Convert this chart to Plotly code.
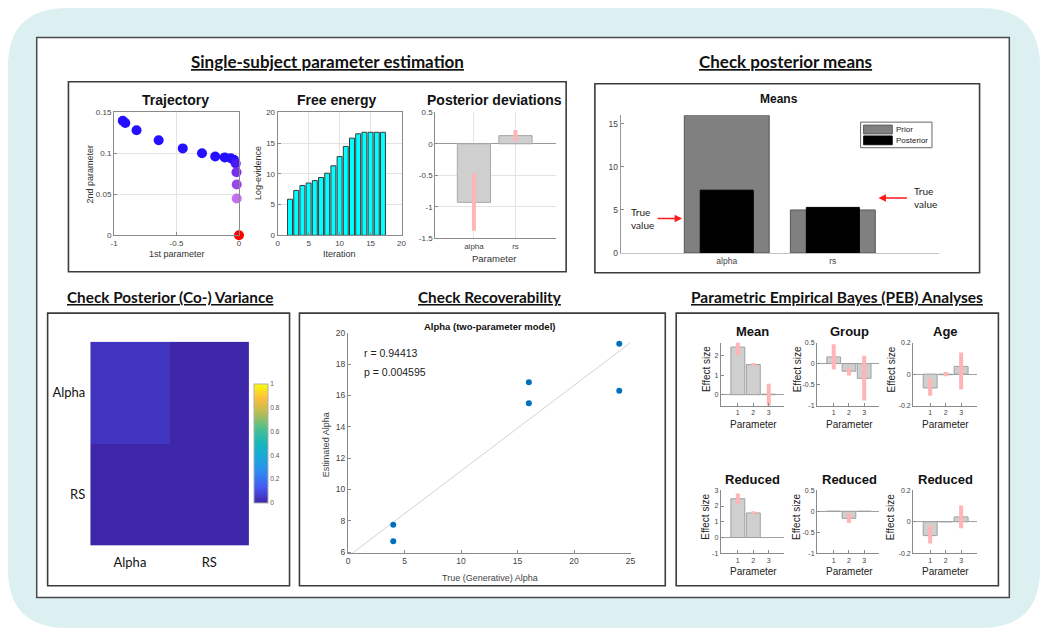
import numpy as np
import plotly.graph_objects as go

W, H = 1050, 637

# ---------------- data ----------------
traj_p1 = [-0.93, -0.91, -0.82, -0.643, -0.45, -0.296, -0.19, -0.114, -0.066, -0.04, -0.026, -0.02, -0.018, -0.018, 0.0]
traj_p2 = [0.1396, 0.137, 0.128, 0.116, 0.106, 0.100, 0.096, 0.095, 0.094, 0.092, 0.0876, 0.077, 0.062, 0.045, 0.0]
traj_colors = ["#2410ff"] * 10 + ["#4a18f6", "#7a2ef0", "#9a46ea", "#c46ef2", "#ff0000"]

fe_iter = list(range(2, 18))
fe_logev = [5.87, 7.3, 8.1, 8.5, 8.9, 9.4, 10.1, 11.3, 12.8, 14.45, 15.8, 16.5, 16.75, 16.75, 16.75, 16.75]

params = ["alpha", "rs"]
dev_mean = [-0.93, 0.13]
dev_lo = [-1.38, 0.05]
dev_hi = [-0.48, 0.22]

means_prior = [16.0, 5.0]
means_post = [7.3, 5.3]

cov_labels = ["Alpha", "RS"]
cov_matrix = [[0.04, 0.0], [0.0, 0.0]]

rec_true = [4, 4, 16, 16, 24, 24]
rec_est = [7.75, 6.7, 16.85, 15.5, 19.3, 16.3]
rec_r = "r = 0.94413"
rec_p = "p = 0.004595"

peb_params = [1, 2, 3]
peb_titles = ["Mean", "Group", "Age", "Reduced", "Reduced", "Reduced"]
peb_vals = [[2.45, 1.55, 0.03], [0.16, -0.18, -0.35], [-0.088, -0.004, 0.049],
            [2.46, 1.56, 0.0], [0.0, -0.17, 0.0], [-0.088, 0.0, 0.031]]
peb_lo = [[2.03, 1.46, -0.6], [-0.14, -0.28, -0.88], [-0.138, -0.014, -0.097],
          [2.15, 1.46, 0.0], [0.0, -0.28, 0.0], [-0.138, 0.0, -0.041]]
peb_hi = [[2.68, 1.63, 0.56], [0.46, -0.10, 0.19], [-0.027, 0.014, 0.138],
          [2.8, 1.67, 0.0], [0.0, -0.05, 0.0], [-0.027, 0.0, 0.103]]
peb_ranges = [[-0.56, 2.68], [-1, 0.5], [-0.2, 0.2], [-1, 3], [-1, 0.5], [-0.2, 0.2]]
peb_ticks = [[0, 1, 2], [-1, -0.5, 0, 0.5], [-0.2, 0, 0.2], [-1, 0, 1, 2, 3], [-1, -0.5, 0, 0.5], [-0.2, 0, 0.2]]

parula = [[0.0, "#3e26a8"], [0.125, "#4656f0"], [0.25, "#2f87f2"], [0.375, "#1aa6dc"],
          [0.5, "#17b6bc"], [0.625, "#4bc08e"], [0.75, "#b3bd55"], [0.875, "#fbbd3e"], [1.0, "#f9fb0e"]]

# ---------------- helpers ----------------
def fx(p):
    return p / W

def fy(p):
    return 1 - p / H

def xd(a, b):
    return [fx(a), fx(b)]

def yd(top, bot):
    return [fy(bot), fy(top)]

SANS = "Liberation Sans"
CAL = "Lato"
AXC = "#8a8a8a"
TKC = "#444444"
GRID = "#e4e4e4"

def fmt(v):
    return "%g" % v

def axis(dom, rng, vals=None, text=None, size=8, line=True, mirror=False, grid=False,
         anchor=None, ticks="inside", zeroline=False, zcol="#9a9a9a", lcol=AXC):
    d = dict(domain=dom, range=rng, showline=line, linecolor=lcol, linewidth=1, mirror=mirror,
             showgrid=grid, gridcolor=GRID, gridwidth=1, ticks=ticks, ticklen=3, tickcolor=AXC,
             tickfont=dict(family=SANS, size=size, color=TKC), zeroline=zeroline,
             zerolinecolor=zcol, zerolinewidth=1, anchor=anchor, fixedrange=True)
    if vals is not None:
        d.update(tickmode="array", tickvals=vals,
                 ticktext=text if text is not None else [fmt(v) for v in vals])
    return d

annotations = []
shapes = []

def T(text, x, y, size, family=SANS, color="#111111", bold=False, angle=0,
      xanchor="center", yanchor="middle", align="center"):
    if bold:
        text = "<b>" + text + "</b>"
    annotations.append(dict(text=text, x=fx(x), y=fy(y), xref="paper", yref="paper",
                            showarrow=False, font=dict(family=family, size=size, color=color),
                            textangle=angle, xanchor=xanchor, yanchor=yanchor, align=align))

def box(x0, y0, x1, y1, line="#3c3c3c", width=1.6, fill="white"):
    shapes.append(dict(type="rect", xref="paper", yref="paper", x0=fx(x0), x1=fx(x1),
                       y0=fy(y1), y1=fy(y0), line=dict(color=line, width=width),
                       fillcolor=fill, layer="below"))

def err_xy(xs, lo, hi):
    ex, ey = [], []
    for x, a, b in zip(xs, lo, hi):
        if b > a:
            ex += [x, x, None]
            ey += [a, b, None]
    return ex, ey

fig = go.Figure()
layout = {}

# ---------------- background ----------------
x0, y0, x1, y1, r = 4, 3, 1045, 633, 60
pts = lambda a, b: "%f,%f" % (fx(a), fy(b))
path = ("M " + pts(x0 + r, y0) + " L " + pts(x1 - r, y0) + " Q " + pts(x1, y0) + " " + pts(x1, y0 + r) +
        " L " + pts(x1, y1 - r) + " Q " + pts(x1, y1) + " " + pts(x1 - r, y1) +
        " L " + pts(x0 + r, y1) + " Q " + pts(x0, y1) + " " + pts(x0, y1 - r) +
        " L " + pts(x0, y0 + r) + " Q " + pts(x0, y0) + " " + pts(x0 + r, y0) + " Z")
shapes.append(dict(type="path", path=path, xref="paper", yref="paper",
                   fillcolor="#dceff1", line=dict(width=0), layer="below"))
box(33, 33, 1014, 602, line="#4a4a4a", width=1.5)
box(65, 78, 567, 271)
box(596, 80, 984, 272)
box(44, 313, 288, 590)
box(298, 313, 667, 590)
box(678, 313, 1003, 590)

# section titles
T("<u>Single-subject parameter estimation</u>", 326, 57, 17, CAL, bold=True)
T("<u>Check posterior means</u>", 788, 57, 17, CAL, bold=True)
T("<u>Check Posterior (Co-) Variance</u>", 167, 297, 15.3, CAL, bold=True)
T("<u>Check Recoverability</u>", 490, 297, 15.3, CAL, bold=True)
T("<u>Parametric Empirical Bayes (PEB) Analyses</u>", 840, 297, 15.5, CAL, bold=True)

# ---------------- 1. Trajectory ----------------
fig.add_trace(go.Scatter(x=traj_p1, y=traj_p2, mode="markers", cliponaxis=False,
                         marker=dict(size=10, color=traj_colors, line=dict(width=0)),
                         xaxis="x", yaxis="y", showlegend=False))
layout["xaxis"] = axis(xd(111, 237), [-1, 0], [-1, -0.5, 0], size=8, mirror=True, grid=True, anchor="y")
layout["yaxis"] = axis(yd(109, 234), [0, 0.15], [0, 0.05, 0.1, 0.15], size=8, mirror=True, grid=True, anchor="x")
T("Trajectory", 173, 97, 14, bold=True)
T("2nd parameter", 87, 172, 9, angle=-90, color="#333")
T("1st parameter", 174, 253, 9, color="#333")

# ---------------- 2. Free energy ----------------
fig.add_trace(go.Bar(x=fe_iter, y=fe_logev, width=0.8, marker=dict(color="#00ffff", line=dict(color="#3a3a3a", width=1)),
                     xaxis="x2", yaxis="y2", showlegend=False))
layout["xaxis2"] = axis(xd(276, 401), [0, 20], [0, 5, 10, 15, 20], size=8, mirror=True, grid=True, anchor="y2")
layout["yaxis2"] = axis(yd(109, 234), [0, 20], [0, 5, 10, 15, 20], size=8, mirror=True, grid=True, anchor="x2")
T("Free energy", 336, 97, 14, bold=True)
T("Log-evidence", 257, 171, 9, angle=-90, color="#333")
T("Iteration", 338, 253, 9, color="#333")

# ---------------- 3. Posterior deviations ----------------
fig.add_trace(go.Bar(x=[1, 2], y=dev_mean, width=0.8, marker=dict(color="#cfcfcf", line=dict(color="#a8a8a8", width=1)),
                     xaxis="x3", yaxis="y3", showlegend=False))
ex, ey = err_xy([1, 2], dev_lo, dev_hi)
fig.add_trace(go.Scatter(x=ex, y=ey, mode="lines", line=dict(color="#ffb5b5", width=4),
                         xaxis="x3", yaxis="y3", showlegend=False))
layout["xaxis3"] = axis(xd(435, 557), [0.07, 2.98], [1, 2], params, size=8, grid=True, anchor="y3", ticks="")
layout["yaxis3"] = axis(yd(109, 237), [-1.5, 0.5], [-1.5, -1, -0.5, 0, 0.5], size=8, grid=True, anchor="x3",
                        zeroline=True)
T("Posterior deviations", 495, 97, 14, bold=True)
T("Parameter", 494, 258, 9.5, color="#333")

# ---------------- 4. Means ----------------
fig.add_trace(go.Bar(x=[1, 2], y=means_prior, width=0.8, name="Prior",
                     marker=dict(color="#808080", line=dict(color="#555555", width=1)),
                     xaxis="x4", yaxis="y4", showlegend=False))
fig.add_trace(go.Bar(x=[1, 2], y=means_post, width=0.5, name="Posterior",
                     marker=dict(color="#000000", line=dict(color="#000000", width=1)),
                     xaxis="x4", yaxis="y4", showlegend=False))
layout["xaxis4"] = axis(xd(622, 943), [0, 3], [1, 2], params, size=8.5, anchor="y4", ticks="", lcol="#c4c4c4")
layout["yaxis4"] = axis(yd(112, 252), [0, 16], [0, 5, 10, 15], size=8.5, anchor="x4", lcol="#9a9a9a")
T("Means", 782, 95, 12, bold=True)
# legend
box(864, 119, 936, 145, line="#666666", width=1)
box(867, 122, 896, 131, line="#444444", width=0.8, fill="#808080")
box(867, 133, 896, 142, line="#000000", width=0.8, fill="#000000")
T("Prior", 898, 126.5, 8, color="#222", xanchor="left")
T("Posterior", 898, 137.5, 8, color="#222", xanchor="left")
# true value arrows
T("True<br>value", 630, 217, 10, CAL, color="#222", xanchor="left", align="left")
T("True<br>value", 916, 196, 10, CAL, color="#222", xanchor="left", align="left")
annotations.append(dict(text="", x=fx(684), y=fy(217), xref="paper", yref="paper", ax=-26, ay=0,
                        showarrow=True, arrowhead=2, arrowsize=1, arrowwidth=1.5, arrowcolor="#ff1a1a"))
annotations.append(dict(text="", x=fx(882), y=fy(196), xref="paper", yref="paper", ax=30, ay=0,
                        showarrow=True, arrowhead=2, arrowsize=1, arrowwidth=1.5, arrowcolor="#ff1a1a"))

# ---------------- 5. Covariance heatmap ----------------
fig.add_trace(go.Heatmap(z=cov_matrix, x=cov_labels, y=cov_labels, zmin=0, zmax=1, colorscale=parula,
                         xaxis="x5", yaxis="y5", showscale=True,
                         colorbar=dict(x=fx(252), xanchor="left", y=fy(445.5), yanchor="middle",
                                       len=121 / H, lenmode="fraction", thickness=14, thicknessmode="pixels",
                                       xpad=0, ypad=0, outlinewidth=1, outlinecolor="#b0b0b0",
                                       tickmode="array", tickvals=[0, 0.2, 0.4, 0.6, 0.8, 1],
                                       ticktext=["0", "0.2", "0.4", "0.6", "0.8", "1"], ticks="",
                                       tickfont=dict(family=SANS, size=6.5, color="#555"))))
layout["xaxis5"] = dict(domain=xd(87, 247), anchor="y5", showline=False, showgrid=False, zeroline=False,
                        ticks="", tickfont=dict(family=CAL, size=13, color="#111"), ticklabelstandoff=8,
                        fixedrange=True)
layout["yaxis5"] = dict(domain=yd(342, 549), anchor="x5", showline=False, showgrid=False, zeroline=False,
                        ticks="", autorange="reversed", tickfont=dict(family=CAL, size=13, color="#111"),
                        ticklabelstandoff=4, fixedrange=True)

# ---------------- 6. Recoverability ----------------
slope, icpt = np.polyfit(rec_true, rec_est, 1)
fit_x = np.array([0.0, 25.0])
fig.add_trace(go.Scatter(x=fit_x, y=slope * fit_x + icpt, mode="lines", line=dict(color="#d2d2d2", width=1),
                         xaxis="x6", yaxis="y6", showlegend=False))
fig.add_trace(go.Scatter(x=rec_true, y=rec_est, mode="markers", marker=dict(size=6, color="#0072bd"),
                         xaxis="x6", yaxis="y6", showlegend=False))
layout["xaxis6"] = axis(xd(347, 632), [0, 25], [0, 5, 10, 15, 20, 25], size=8.5, anchor="y6")
layout["yaxis6"] = axis(yd(333, 557), [5.93, 20], [6, 8, 10, 12, 14, 16, 18, 20], size=8.5, anchor="x6")
T("Alpha (two-parameter model)", 490, 327, 9.5, bold=True)
T(rec_r, 361, 354, 10.5, color="#222", xanchor="left")
T(rec_p, 361, 373, 10.5, color="#222", xanchor="left")
T("True (Generative) Alpha", 490, 582, 9, color="#444")
T("Estimated Alpha", 325, 447, 9, color="#444", angle=-90)

# ---------------- 7-12. PEB ----------------
cols = [(723, 787), (820, 883), (917, 981)]
rows = [(343, 407), (493, 557)]
title_cx = [755, 853, 950]
label_x = [708, 800, 895]
for k in range(6):
    rr, cc = divmod(k, 3)
    n = 7 + k
    xa, ya = "x%d" % n, "y%d" % n
    fig.add_trace(go.Bar(x=peb_params, y=peb_vals[k], width=0.9,
                         marker=dict(color="#cfcfcf", line=dict(color="#a0a0a0", width=1)),
                         xaxis=xa, yaxis=ya, showlegend=False))
    ex, ey = err_xy(peb_params, peb_lo[k], peb_hi[k])
    fig.add_trace(go.Scatter(x=ex, y=ey, mode="lines", line=dict(color="#ffb5b5", width=4),
                             xaxis=xa, yaxis=ya, showlegend=False))
    layout["xaxis%d" % n] = axis(xd(*cols[cc]), [-0.1, 4], [1, 2, 3], size=7, anchor=ya)
    layout["yaxis%d" % n] = axis(yd(*rows[rr]), peb_ranges[k], peb_ticks[k], size=7, anchor=xa,
                                 zeroline=True, zcol="#a0a0a0")
    ty = rows[rr][0] - 11
    T(peb_titles[k], title_cx[cc], ty, 13, bold=True)
    T("Effect size", label_x[cc], (rows[rr][0] + rows[rr][1]) / 2 - 5, 10, angle=-90, color="#222")
    T("Parameter", (cols[cc][0] + cols[cc][1]) / 2 + 1, rows[rr][1] + 19, 10, color="#222")

layout.update(width=W, height=H, margin=dict(l=0, r=0, t=0, b=0), paper_bgcolor="white",
              plot_bgcolor="rgba(0,0,0,0)", barmode="overlay", showlegend=False,
              annotations=annotations, shapes=shapes)
fig.update_layout(**layout)

fig.write_html("out.html", config={"displayModeBar": False},
               post_script="document.body.style.margin='0px';")
